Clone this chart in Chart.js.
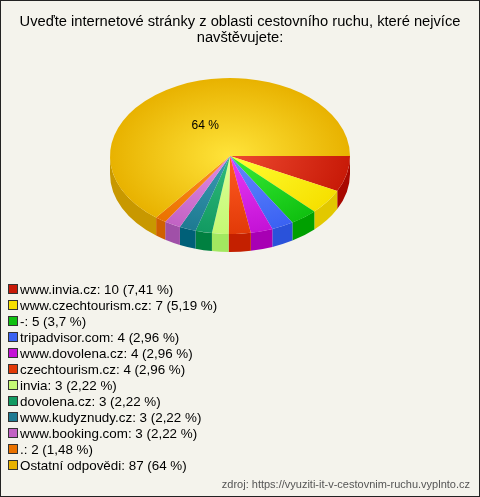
<!DOCTYPE html>
<html lang="cs">
<head>
<meta charset="UTF-8">
<title>Navštěvované stránky – cestovní ruch</title>
<script src="https://cdn.jsdelivr.net/npm/chart.js"></script>
<style>
  body {
    margin: 0;
    background: #fff;
    font-family: "Liberation Sans", Arial, sans-serif;
  }
  .box {
    position: relative;
    width: 480px;
    height: 497px;
    box-sizing: border-box;
    border: 1px solid #222;
    background: #f4f3ec;
    overflow: hidden;
  }
  #chart {
    position: absolute;
    left: 0;
    top: 0;
  }
  #legend {
    position: absolute;
    left: 7px;
    top: 281px;
    font-size: 13.4px;
    color: #000;
  }
  #legend div {
    height: 16px;
    line-height: 16px;
    white-space: nowrap;
  }
  #legend span {
    display: inline-block;
    width: 8px;
    height: 8px;
    border: 1px solid #333;
    margin-right: 2px;
    vertical-align: 0;
  }
  .source {
    position: absolute;
    right: 9px;
    bottom: 6px;
    font-size: 11px;
    color: #555;
  }
</style>
</head>
<body>

<div class="box">
  <canvas id="chart" width="478" height="495"></canvas>
  <div id="legend"></div>
  <div class="source">zdroj: https://vyuziti-it-v-cestovnim-ruchu.vyplnto.cz</div>
</div>

<script>
  // data
  const labels = ['www.invia.cz', 'www.czechtourism.cz', '-', 'tripadvisor.com', 'www.dovolena.cz',
                  'czechtourism.cz', 'invia', 'dovolena.cz', 'www.kudyznudy.cz', 'www.booking.com',
                  '.', 'Ostatní odpovědi'];
  const values = [10, 7, 5, 4, 4, 4, 3, 3, 3, 3, 2, 87];
  const percents = ['7,41', '5,19', '3,7', '2,96', '2,96', '2,96', '2,22', '2,22', '2,22', '2,22', '1,48', '64'];

  // barvy: střed, okraj, bok
  const colLight = ['#ee4a30', '#ffff33', '#38ec38', '#6488ff', '#e83cf4', '#ff5c22', '#dcff96', '#30bc7a', '#3a9cb2', '#e28ce2', '#ff9222', '#ffe43a'];
  const colDark  = ['#c81a08', '#f6e000', '#10c010', '#3a62f2', '#c412d6', '#e23a08', '#c4f874', '#129a62', '#1e7a92', '#c262c4', '#ea7200', '#e8b200'];
  const colSide  = ['#a80800', '#e2c800', '#00a000', '#2a52da', '#a800b4', '#c42000', '#a2e860', '#008040', '#006078', '#a050a8', '#d06000', '#c89800'];

  // 3D elipsa (souřadnice canvasu)
  const CX = 229, CY = 155, RX = 120, RY = 78, DEPTH = 18;

  // HTML legenda
  const legend = document.getElementById('legend');
  labels.forEach((l, i) => {
    const row = document.createElement('div');
    row.innerHTML = `<span style="background:${colDark[i]}"></span>${l}: ${values[i]} (${percents[i]} %)`;
    legend.appendChild(row);
  });

  function sliceFill(c) {
    const chart = c.chart;
    const a = chart.chartArea;
    if (!a) return colDark[c.dataIndex];
    const x = (a.left + a.right) / 2, y = (a.top + a.bottom) / 2;
    const r = Math.min(a.right - a.left, a.bottom - a.top) / 2;
    const g = chart.ctx.createRadialGradient(x, y, 0, x, y, r);
    g.addColorStop(0, colLight[c.dataIndex]);
    g.addColorStop(1, colDark[c.dataIndex]);
    return g;
  }

  // kreslí boky a zplošťuje koláč
  const pie3d = {
    id: 'pie3d',
    beforeDatasetsDraw(chart) {
      const ctx = chart.ctx;
      const arcs = chart.getDatasetMeta(0).data;
      if (!arcs.length) return;
      const r = arcs[0].outerRadius;

      ctx.save();
      arcs.forEach((arc, i) => {
        const a1 = Math.max(arc.startAngle, 0);
        const a2 = Math.min(arc.endAngle, Math.PI);
        if (a2 <= a1) return;
        ctx.beginPath();
        ctx.ellipse(CX, CY, RX, RY, 0, a1, a2);
        ctx.ellipse(CX, CY + DEPTH, RX, RY, 0, a2, a1, true);
        ctx.closePath();
        ctx.fillStyle = colSide[i];
        ctx.fill();
      });

      ctx.save();
      ctx.translate(CX, CY);
      ctx.scale(RX / r, RY / r);
      ctx.translate(-arcs[0].x, -arcs[0].y);
    },
    afterDatasetsDraw(chart) {
      const ctx = chart.ctx;
      ctx.restore();
      ctx.restore();

      // popisky velkých výsečí
      const arcs = chart.getDatasetMeta(0).data;
      ctx.save();
      ctx.font = '12px "Liberation Sans", Arial, sans-serif';
      ctx.fillStyle = '#000';
      ctx.textAlign = 'center';
      ctx.textBaseline = 'middle';
      arcs.forEach((arc, i) => {
        if (arc.endAngle - arc.startAngle < 0.6) return;
        const mid = (arc.startAngle + arc.endAngle) / 2;
        ctx.fillText(percents[i] + ' %', CX + RX * 0.47 * Math.cos(mid), CY + RY * 0.43 * Math.sin(mid));
      });
      ctx.restore();
    }
  };

  new Chart(document.getElementById('chart'), {
    type: 'pie',
    data: {
      labels: labels,
      datasets: [{
        data: values,
        backgroundColor: sliceFill,
        borderWidth: 0
      }]
    },
    options: {
      responsive: false,
      devicePixelRatio: 1,
      animation: false,
      events: [],
      rotation: 90,
      layout: { padding: { bottom: 200 } },
      plugins: {
        legend: { display: false },
        tooltip: { enabled: false },
        title: {
          display: true,
          text: ['Uveďte internetové stránky z oblasti cestovního ruchu, které nejvíce', 'navštěvujete:'],
          color: '#000',
          font: { family: '"Liberation Sans", Arial, sans-serif', size: 14.7, weight: 'normal', lineHeight: 1.1 },
          padding: { top: 13, bottom: 10 }
        }
      }
    },
    plugins: [pie3d]
  });
</script>

</body>
</html>
